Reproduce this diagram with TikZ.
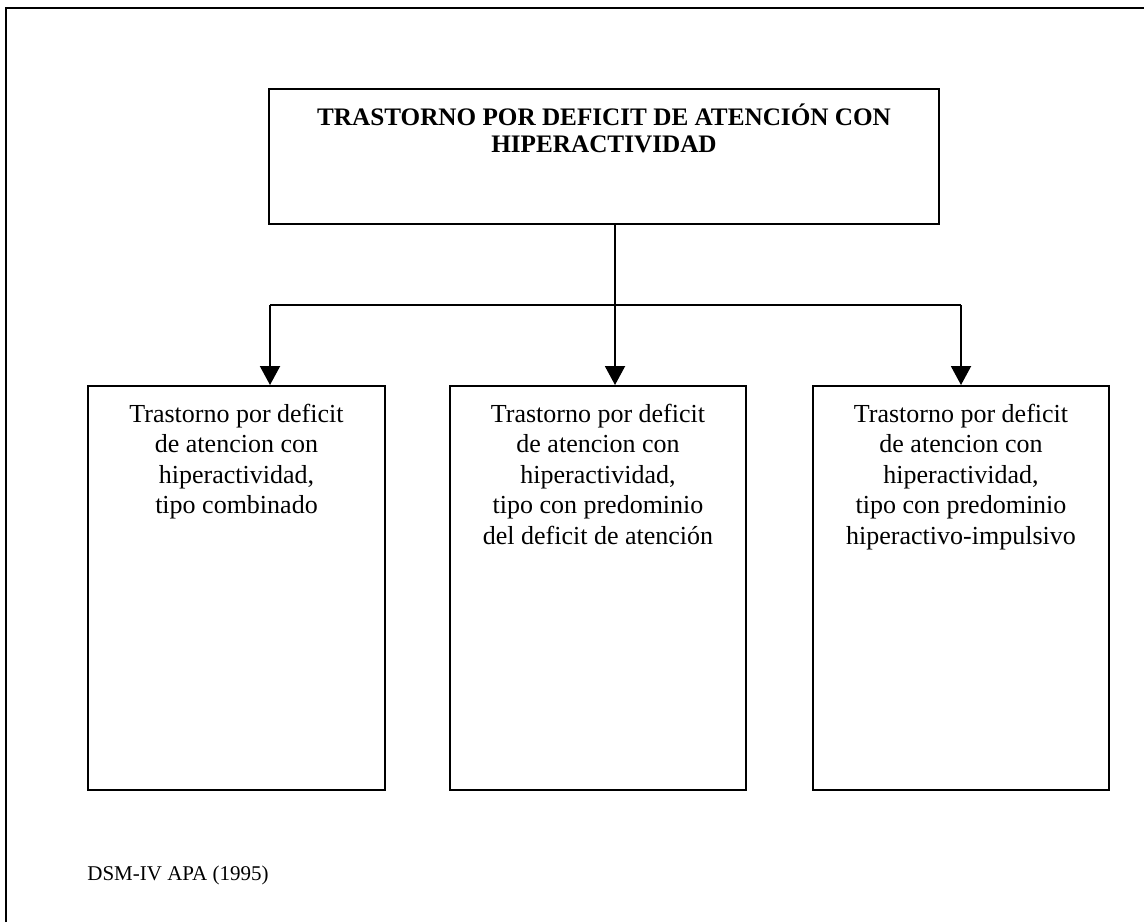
\documentclass[tikz,border=0pt]{standalone}
\usepackage{fontspec}
\setmainfont{Liberation Serif}
\usetikzlibrary{arrows.meta}
% zero-width rule that fixes the height of a first line
\newcommand\firstlinetop[1]{\rule{0pt}{#1}}
\begin{document}
\begin{tikzpicture}[x=0.5pt,y=-0.5pt,
  frame/.style={line width=1pt},
  box/.style={draw, line width=1pt, inner sep=0pt},
  subbox/.style={box, minimum width=148pt, minimum height=202pt},
  boxtext/.style={anchor=north, inner sep=0pt, align=center,
    font=\fontsize{13}{15.25}\selectfont},
  titletext/.style={anchor=north, inner sep=0pt, align=center,
    font=\bfseries\fontsize{12.6}{13.5}\selectfont},
  link/.style={line width=1pt},
  arrow/.style={link, -{Triangle[width=10pt,length=9.5pt]}}]
\useasboundingbox (0,0) rectangle (1144,922);

% page frame (top and left edges)
\coordinate (fr-tl) at (6,8);
\coordinate (fr-tr) at (1144,8);
\coordinate (fr-bl) at (6,922);
\draw[frame] (fr-bl) -- (fr-tl) -- (fr-tr);

% main box
\node[box, minimum width=335pt, minimum height=67.5pt] (top) at (604,156.5) {};
\node[titletext] (toptext) at (604,101)
  {\firstlinetop{12pt}TRASTORNO POR DEFICIT DE ATENCIÓN CON\\HIPERACTIVIDAD};

% subtype boxes
\node[subbox, minimum width=148.5pt] (left) at (236.5,588) {};
\node[subbox] (mid) at (598,588) {};
\node[subbox] (right) at (961,588) {};

\node[boxtext] (lefttext) at (236.5,402)
  {\firstlinetop{10pt}Trastorno por deficit\\de atencion con\\hiperactividad,\\tipo combinado};
\node[boxtext] (midtext) at (598,402)
  {\firstlinetop{10pt}Trastorno por deficit\\de atencion con\\hiperactividad,\\tipo con predominio\\del deficit de atención};
\node[boxtext] (righttext) at (961,402)
  {\firstlinetop{10pt}Trastorno por deficit\\de atencion con\\hiperactividad,\\tipo con predominio\\hiperactivo-impulsivo};

% branching connector
\coordinate (hub) at (615,305);
\coordinate (hubL) at (270,305);
\coordinate (hubR) at (961,305);
\draw[link] (top.south -| hub) -- (hub);
\draw[link] (hubL) -- (hubR);
\draw[arrow] (hubL) -- (hubL |- left.north);
\draw[arrow] (hub) -- (hub |- mid.north);
\draw[arrow] (hubR) -- (hubR |- right.north);

% source
\node[anchor=base west, inner sep=0pt, font=\fontsize{10.5}{12}\selectfont] (src) at (87,880)
  {DSM-IV APA (1995)};
\end{tikzpicture}
\end{document}
